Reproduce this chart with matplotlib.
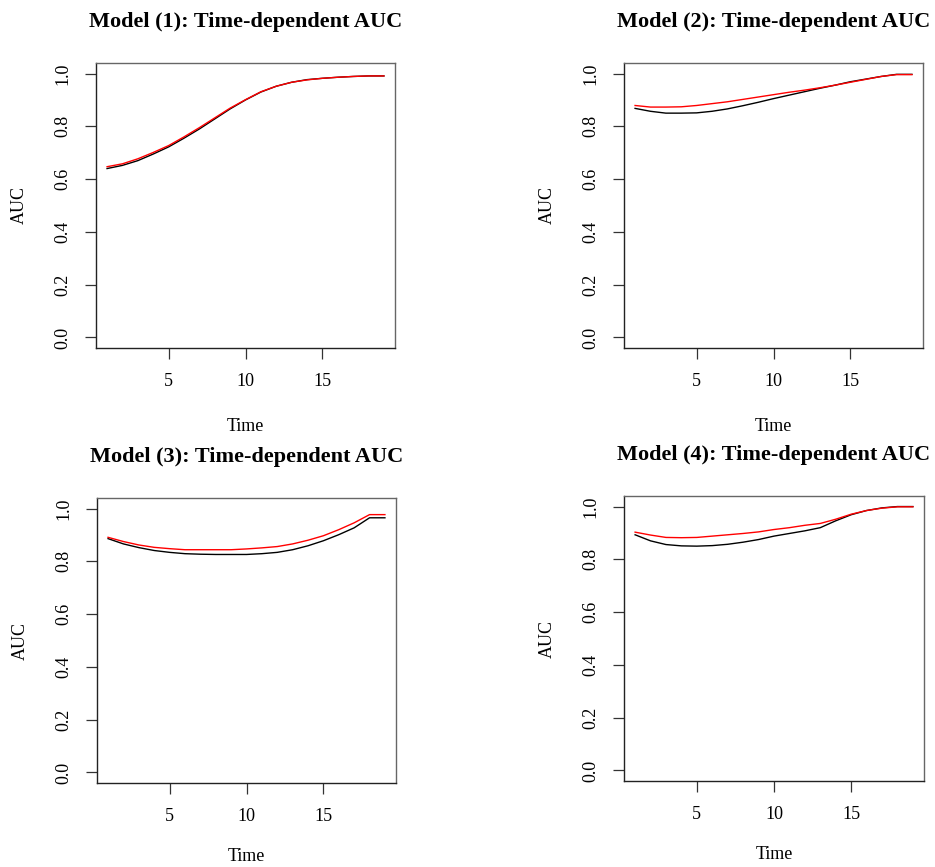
import numpy as np
import matplotlib.pyplot as plt

# ---------- data ----------
TIME = list(range(1, 20))

M1_BLACK = [0.640, 0.652, 0.670, 0.695, 0.722, 0.755, 0.790, 0.828, 0.866, 0.900,
            0.930, 0.952, 0.967, 0.977, 0.982, 0.986, 0.989, 0.991, 0.991]
M1_RED = [0.647, 0.658, 0.677, 0.701, 0.727, 0.760, 0.795, 0.832, 0.869, 0.901,
          0.931, 0.952, 0.967, 0.976, 0.982, 0.986, 0.989, 0.991, 0.991]

M2_BLACK = [0.868, 0.857, 0.850, 0.850, 0.851, 0.857, 0.866, 0.878, 0.891, 0.905,
            0.918, 0.931, 0.944, 0.956, 0.969, 0.979, 0.989, 0.997, 0.997]
M2_RED = [0.879, 0.873, 0.873, 0.874, 0.879, 0.886, 0.893, 0.902, 0.911, 0.920,
          0.929, 0.937, 0.946, 0.956, 0.967, 0.978, 0.989, 0.996, 0.996]

M3_BLACK = [0.886, 0.866, 0.852, 0.841, 0.834, 0.829, 0.827, 0.826, 0.826, 0.826,
            0.829, 0.834, 0.844, 0.859, 0.878, 0.901, 0.927, 0.965, 0.965]
M3_RED = [0.891, 0.875, 0.862, 0.853, 0.848, 0.844, 0.844, 0.844, 0.844, 0.847,
          0.851, 0.856, 0.866, 0.880, 0.897, 0.920, 0.946, 0.977, 0.977]

M4_BLACK = [0.893, 0.870, 0.856, 0.851, 0.850, 0.852, 0.857, 0.865, 0.875, 0.888,
            0.898, 0.908, 0.920, 0.946, 0.969, 0.985, 0.995, 1.000, 1.000]
M4_RED = [0.903, 0.892, 0.883, 0.882, 0.883, 0.888, 0.893, 0.898, 0.904, 0.913,
          0.920, 0.929, 0.936, 0.952, 0.971, 0.985, 0.994, 0.999, 0.999]

TITLES = ["Model (1): Time-dependent AUC", "Model (2): Time-dependent AUC",
          "Model (3): Time-dependent AUC", "Model (4): Time-dependent AUC"]
SERIES = [(M1_BLACK, M1_RED), (M2_BLACK, M2_RED), (M3_BLACK, M3_RED), (M4_BLACK, M4_RED)]
YTICKS = [0.0, 0.2, 0.4, 0.6, 0.8, 1.0]
XTICKS = [5, 10, 15]

# ---------- layout (pixel boxes: left, right, top, bottom) ----------
W, H = 935, 867
BOXES = [(96, 395, 63, 348), (624, 923, 63, 348),
         (97, 396, 498, 783), (624, 924, 496, 781)]
XLABEL_Y = [-0.245, -0.245, -0.228, -0.228]

plt.rcParams["font.family"] = ["Liberation Serif", "DejaVu Serif"]
fig = plt.figure(figsize=(W / 100, H / 100), dpi=100)

for (l, r, t, b), title, (blk, red), xly in zip(BOXES, TITLES, SERIES, XLABEL_Y):
    ax = fig.add_axes([l / W, (H - b) / H, (r - l) / W, (b - t) / H])
    ax.plot(TIME, blk, color="black", linewidth=1.0)
    ax.plot(TIME, red, color="red", linewidth=1.0)
    ax.set_xlim(0.28, 19.72)
    ax.set_ylim(-0.04, 1.04)
    ax.set_xticks(XTICKS)
    ax.set_xticklabels([str(v) for v in XTICKS], fontsize=13)
    ax.set_yticks(YTICKS)
    ax.set_yticklabels([f"{v:.1f}" for v in YTICKS], fontsize=13,
                       rotation=90, va="center")
    ax.tick_params(direction="out", length=8, width=0.9, pad=10, color="#333333")
    for side in ["left", "bottom"]:
        ax.spines[side].set_color("#222222")
    for side in ["top", "right"]:
        ax.spines[side].set_color("#666666")
    for s in ax.spines.values():
        s.set_linewidth(1.0)
    ax.set_title(title, fontsize=16, fontweight="bold", pad=26)
    ax.set_xlabel("Time", fontsize=13)
    ax.set_ylabel("AUC", fontsize=13)
    ax.xaxis.set_label_coords(0.5, xly)
    ax.yaxis.set_label_coords(-0.228, 0.5)

fig.savefig("out.png", dpi=100)
